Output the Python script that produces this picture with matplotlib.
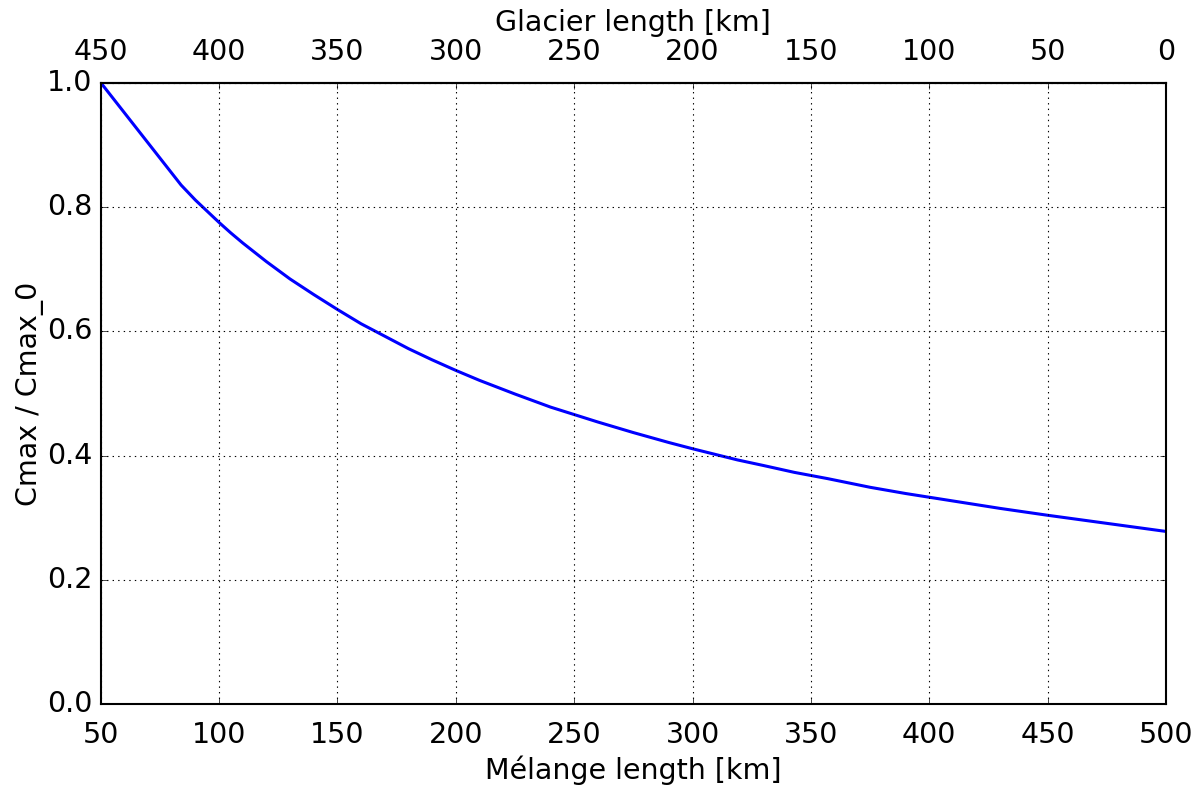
#!/usr/bin/env python
"""Normalised max. concentration vs melange length (classic mpl look)."""
import matplotlib
matplotlib.use("Agg")
import matplotlib.pyplot as plt

# values
melange_km = [50, 84, 90, 95, 100, 105, 110, 120, 130, 140, 150, 160, 170,
              180, 190, 200, 210, 225, 240, 250, 260, 275, 290, 300, 319,
              330, 343, 357, 375, 390, 400, 415, 430, 450, 475, 500]
cmax_ratio = [1.000, 0.835, 0.811, 0.793, 0.775, 0.758, 0.742, 0.712, 0.684,
              0.659, 0.635, 0.612, 0.592, 0.572, 0.554, 0.537, 0.521, 0.499,
              0.478, 0.466, 0.454, 0.437, 0.421, 0.411, 0.393, 0.384, 0.373,
              0.363, 0.349, 0.339, 0.333, 0.324, 0.315, 0.304, 0.291, 0.278]
TOTAL_KM = 500  # glacier length = TOTAL_KM - melange length

plt.style.use("classic")
plt.rcParams.update({
    "font.family": "DejaVu Sans",
    "font.size": 20.5,
    "axes.linewidth": 1.5,
    "figure.facecolor": "white",
    "savefig.facecolor": "white",
})

fig = plt.figure(figsize=(12.01, 7.85), dpi=100)
ax = fig.add_axes([0.0838, 0.1028, 0.8871, 0.7921])
ax.plot(melange_km, cmax_ratio, color="b", lw=2.2)
ax.set_xlim(50, 500)
ax.set_ylim(0, 1)
ax.set_xticks(range(50, 501, 50))
ax.set_yticks([0.0, 0.2, 0.4, 0.6, 0.8, 1.0])
ax.set_xlabel("Mélange length [km]", labelpad=5)
ax.set_ylabel("Cmax / Cmax_0", labelpad=2)
ax.grid(True, color="k", ls=":", lw=0.8)
ax.tick_params(axis="x", top=False, pad=12)
ax.tick_params(axis="y", pad=6)

top = ax.secondary_xaxis("top", functions=(lambda x: TOTAL_KM - x,
                                           lambda g: TOTAL_KM - g))
top.set_xticks(range(0, 451, 50))
top.tick_params(pad=12)
top.set_xlabel("Glacier length [km]", labelpad=5)

fig.savefig("out.png", dpi=100)
